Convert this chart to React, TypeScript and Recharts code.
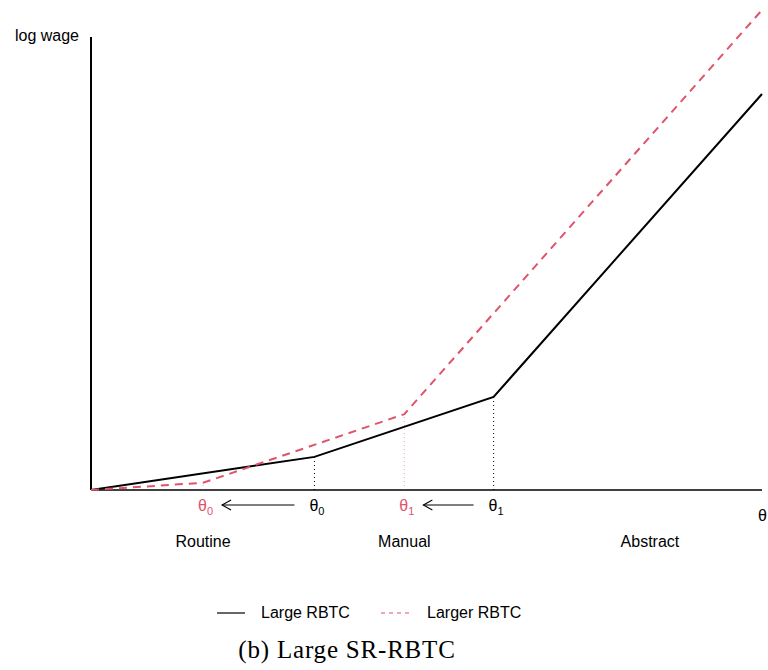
import { LineChart, Line, XAxis, YAxis, ReferenceLine, ReferenceDot } from "recharts";

const PINK = "#DF536B";
const FONT = "'Liberation Sans', Arial, sans-serif";

// piecewise-linear log wage schedules over skill theta
const largeRbtc = [
  { theta: 0, wage: 0 },
  { theta: 3.33, wage: 0.69 },
  { theta: 6, wage: 1.94 },
  { theta: 10, wage: 8.25 },
];
const largerRbtc = [
  { theta: 0, wage: 0 },
  { theta: 1.67, wage: 0.15 },
  { theta: 4.67, wage: 1.58 },
  { theta: 10, wage: 10 },
];

const thresholdSubs = ["0", "1"];
const oldKinks = largeRbtc.slice(1, 3);
const newKinks = largerRbtc.slice(1, 3);

const taskNames = ["Routine", "Manual", "Abstract"];
const taskPositions = [1.67, 4.67, 8.33];

const X_MAX = 10;
const Y_MAX = 10;
const Y_AXIS_TOP = 9.44;

const ThetaText = ({ x, y, sub, color }: { x: number; y: number; sub?: string; color: string }) => (
  <text x={x - 5} y={y} fill={color} fontFamily={FONT} fontSize={16}>
    θ
    {sub !== undefined && (
      <tspan fontSize={11} dy={4}>
        {sub}
      </tspan>
    )}
  </text>
);

const arrowShape = (props: any) => {
  const { x1, x2, y1 } = props;
  const y = y1 + 15;
  const left = Math.min(x1, x2) + 19;
  const right = Math.max(x1, x2) - 20;
  return (
    <g stroke="#000" strokeWidth={1.1} fill="none">
      <line x1={left} y1={y} x2={right} y2={y} />
      <polyline points={`${left + 9},${y - 5} ${left},${y} ${left + 9},${y + 5}`} />
    </g>
  );
};

export default function App() {
  return (
    <div style={{ position: "absolute", left: 0, top: 0, width: 768, height: 670, background: "#fff" }}>
      <LineChart width={768} height={670} margin={{ top: 10, right: 6, left: 91, bottom: 180 }}>
        <XAxis dataKey="theta" type="number" domain={[0, X_MAX]} hide />
        <YAxis type="number" domain={[0, Y_MAX]} hide />

        {/* axes */}
        <ReferenceLine segment={[{ x: 0, y: 0 }, { x: X_MAX, y: 0 }]} stroke="#000" strokeWidth={1.5} />
        <ReferenceLine segment={[{ x: 0, y: 0 }, { x: 0, y: Y_AXIS_TOP }]} stroke="#000" strokeWidth={2} />

        {/* threshold drop lines */}
        {oldKinks.map((k) => (
          <ReferenceLine
            key={`old-${k.theta}`}
            segment={[{ x: k.theta, y: 0 }, { x: k.theta, y: k.wage }]}
            stroke="#000"
            strokeWidth={1}
            strokeDasharray="1 3"
          />
        ))}
        {newKinks.map((k) => (
          <ReferenceLine
            key={`new-${k.theta}`}
            segment={[{ x: k.theta, y: 0 }, { x: k.theta, y: k.wage }]}
            stroke={PINK}
            strokeOpacity={0.5}
            strokeWidth={1}
            strokeDasharray="1 3"
          />
        ))}

        <Line
          data={largeRbtc}
          dataKey="wage"
          type="linear"
          stroke="#000"
          strokeWidth={2}
          dot={false}
          isAnimationActive={false}
        />
        <Line
          data={largerRbtc}
          dataKey="wage"
          type="linear"
          stroke={PINK}
          strokeWidth={2}
          strokeDasharray="8 6"
          dot={false}
          isAnimationActive={false}
        />

        {/* threshold labels and shift arrows */}
        {oldKinks.map((k, i) => (
          <ReferenceDot
            key={`lab-old-${i}`}
            x={k.theta}
            y={0}
            shape={(p: any) => <ThetaText x={p.cx} y={p.cy + 21} sub={thresholdSubs[i]} color="#000" />}
          />
        ))}
        {newKinks.map((k, i) => (
          <ReferenceDot
            key={`lab-new-${i}`}
            x={k.theta}
            y={0}
            shape={(p: any) => <ThetaText x={p.cx} y={p.cy + 21} sub={thresholdSubs[i]} color={PINK} />}
          />
        ))}
        {oldKinks.map((k, i) => (
          <ReferenceLine
            key={`arrow-${i}`}
            segment={[{ x: newKinks[i].theta, y: 0 }, { x: k.theta, y: 0 }]}
            shape={arrowShape}
          />
        ))}

        {/* task regions */}
        {taskNames.map((name, i) => (
          <ReferenceDot
            key={name}
            x={taskPositions[i]}
            y={0}
            shape={(p: any) => (
              <text x={p.cx} y={p.cy + 57} textAnchor="middle" fontFamily={FONT} fontSize={16} fill="#000">
                {name}
              </text>
            )}
          />
        ))}

        {/* axis titles */}
        <ReferenceDot
          x={X_MAX}
          y={0}
          shape={(p: any) => <ThetaText x={p.cx + 1} y={p.cy + 31} color="#000" />}
        />
        <ReferenceDot
          x={0}
          y={Y_AXIS_TOP}
          shape={(p: any) => (
            <text x={p.cx - 12} y={p.cy + 4} textAnchor="end" fontFamily={FONT} fontSize={16} fill="#000">
              log wage
            </text>
          )}
        />
      </LineChart>

      {/* legend */}
      <svg width={768} height={30} style={{ position: "absolute", left: 0, top: 598 }}>
        <line x1={217} y1={15} x2={245} y2={15} stroke="#000" strokeWidth={1.2} />
        <text x={261} y={20} fontFamily={FONT} fontSize={16} fill="#000">
          Large RBTC
        </text>
        <line x1={381} y1={15} x2={410} y2={15} stroke={PINK} strokeWidth={1.2} strokeDasharray="4 4" />
        <text x={427} y={20} fontFamily={FONT} fontSize={16} fill="#000">
          Larger RBTC
        </text>
      </svg>

      {/* caption */}
      <svg width={768} height={40} style={{ position: "absolute", left: 0, top: 630 }}>
        <text
          x={347}
          y={28}
          textAnchor="middle"
          fontFamily="'Liberation Serif', 'Times New Roman', serif"
          fontSize={25}
          letterSpacing={0.8}
          fill="#000"
        >
          (b) Large SR-RBTC
        </text>
      </svg>
    </div>
  );
}
